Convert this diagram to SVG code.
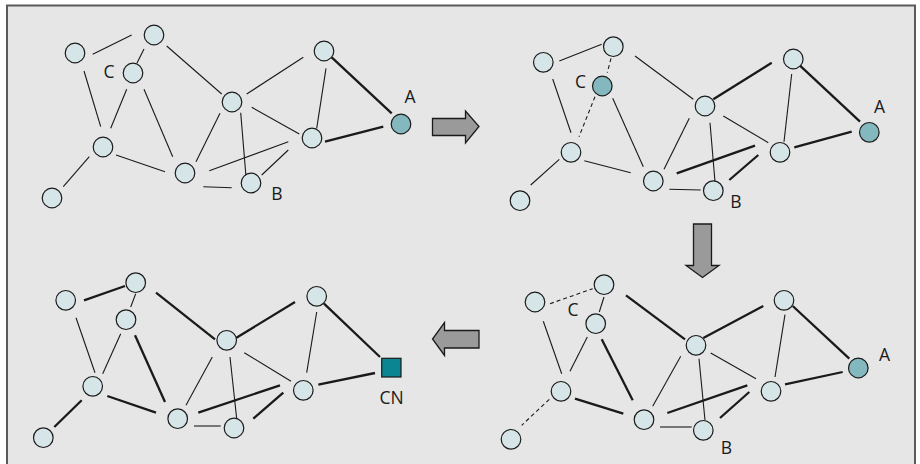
<svg xmlns="http://www.w3.org/2000/svg" width="920" height="464" viewBox="0 0 920 464">
<style>
.frame{fill:#e6e6e6;stroke:#5a5a5a;stroke-width:2}
.n{fill:#d6e5e8;stroke:#1a1a1a;stroke-width:1.2}
.d{fill:#84b8bf;stroke:#1a1a1a;stroke-width:1.2}
.sq{fill:#0b8591;stroke:#1a1a1a;stroke-width:1.2}
.t{stroke:#1a1a1a;stroke-width:1.1;fill:none}
.k{stroke:#1a1a1a;stroke-width:2.3;fill:none}
.ds{stroke:#1a1a1a;stroke-width:1.1;fill:none;stroke-dasharray:4 3}
.arr{fill:#9a9a9a;stroke:#1a1a1a;stroke-width:1.3;stroke-linejoin:miter}
.lb{font-family:"Open Sans","Liberation Sans",Arial,sans-serif;font-size:17.5px;fill:#1a1a1a;text-anchor:middle}
</style>
<rect class="frame" x="7" y="5.5" width="908" height="470"/>
<g id="connectors">
<!-- panel 1 -->
<line class="t" x1="92.7" y1="54.3" x2="131.7" y2="35"/>
<line class="t" x1="144" y1="49" x2="137" y2="63"/>
<line class="t" x1="166.7" y1="46" x2="221.7" y2="94"/>
<line class="t" x1="84" y1="71" x2="100.7" y2="126.7"/>
<line class="t" x1="126.7" y1="89.3" x2="110.7" y2="128.3"/>
<line class="t" x1="144" y1="89.3" x2="172.7" y2="156.7"/>
<line class="t" x1="89.3" y1="156.7" x2="63.3" y2="186.7"/>
<line class="t" x1="116" y1="155" x2="165" y2="171.7"/>
<line class="t" x1="196" y1="161.7" x2="220" y2="113.3"/>
<line class="t" x1="203.3" y1="186.7" x2="231.7" y2="187.7"/>
<line class="t" x1="209.3" y1="170.7" x2="288.3" y2="141.7"/>
<line class="t" x1="240.7" y1="112.7" x2="246" y2="176.7"/>
<line class="t" x1="251.7" y1="107.3" x2="299.3" y2="134"/>
<line class="t" x1="246.7" y1="94" x2="303.3" y2="57.3"/>
<line class="t" x1="261.7" y1="175" x2="288.3" y2="150"/>
<line class="t" x1="326" y1="68.3" x2="316.7" y2="128.3"/>
<line class="k" x1="331.7" y1="57.3" x2="391.7" y2="113.3"/>
<line class="k" x1="325" y1="141.7" x2="383.3" y2="126.7"/>
<!-- panel 2 -->
<line class="t" x1="559.3" y1="61" x2="601.7" y2="44.3"/>
<line class="ds" x1="611" y1="58.3" x2="607.3" y2="72.7"/>
<line class="t" x1="635" y1="56" x2="693.3" y2="99.3"/>
<line class="t" x1="552.7" y1="79" x2="571" y2="132.7"/>
<line class="ds" x1="595" y1="96.7" x2="579" y2="136.7"/>
<line class="t" x1="612.7" y1="98.3" x2="643.3" y2="166.7"/>
<line class="t" x1="559.3" y1="159.3" x2="530.7" y2="185"/>
<line class="t" x1="584.3" y1="160.7" x2="630.7" y2="172.7"/>
<line class="t" x1="664" y1="169.3" x2="689.3" y2="118.3"/>
<line class="t" x1="669.3" y1="189.3" x2="700.7" y2="190"/>
<line class="k" x1="676.7" y1="173.3" x2="755" y2="145.7"/>
<line class="t" x1="710" y1="122.7" x2="715" y2="181.7"/>
<line class="t" x1="723.3" y1="116" x2="768.3" y2="142.7"/>
<line class="k" x1="713.3" y1="99.3" x2="771.7" y2="62.7"/>
<line class="k" x1="729.3" y1="180" x2="758.3" y2="155"/>
<line class="t" x1="791.7" y1="74" x2="784" y2="141.7"/>
<line class="k" x1="800" y1="65.7" x2="860" y2="121.7"/>
<line class="k" x1="794.3" y1="147.3" x2="851.7" y2="131.7"/>
<!-- panel 3 -->
<line class="ds" x1="550" y1="303.7" x2="592.7" y2="288.7"/>
<line class="t" x1="604" y1="297" x2="599.3" y2="312"/>
<line class="k" x1="626" y1="295.3" x2="685" y2="339.3"/>
<line class="t" x1="543.3" y1="321.3" x2="561.7" y2="373.7"/>
<line class="t" x1="587.3" y1="337" x2="570" y2="371.3"/>
<line class="k" x1="601.7" y1="339.3" x2="632.7" y2="400.3"/>
<line class="ds" x1="549.3" y1="399.3" x2="521.7" y2="425.3"/>
<line class="k" x1="575" y1="398.7" x2="623.3" y2="413.7"/>
<line class="t" x1="652.7" y1="406.3" x2="680.7" y2="356.3"/>
<line class="t" x1="660" y1="427" x2="691.7" y2="427"/>
<line class="k" x1="667.3" y1="413" x2="747.3" y2="385.3"/>
<line class="t" x1="699" y1="358.7" x2="705" y2="420.3"/>
<line class="t" x1="710.7" y1="353" x2="756" y2="378.7"/>
<line class="k" x1="703.3" y1="338" x2="763.3" y2="306"/>
<line class="k" x1="720" y1="418" x2="749.3" y2="392"/>
<line class="t" x1="785" y1="314.7" x2="775" y2="377"/>
<line class="k" x1="792.7" y1="306" x2="849.3" y2="358.7"/>
<line class="k" x1="785" y1="384.3" x2="842.7" y2="372"/>
<!-- panel 4 -->
<line class="k" x1="84" y1="300.3" x2="125" y2="286"/>
<line class="t" x1="135.7" y1="293.7" x2="130.7" y2="307"/>
<line class="k" x1="156" y1="292.7" x2="215" y2="339.3"/>
<line class="t" x1="76" y1="317.7" x2="95" y2="372.7"/>
<line class="t" x1="120.7" y1="333.7" x2="102.7" y2="373.7"/>
<line class="k" x1="135" y1="335.3" x2="165" y2="402"/>
<line class="k" x1="81.7" y1="400.3" x2="54.3" y2="427"/>
<line class="k" x1="107.3" y1="396" x2="156" y2="412.7"/>
<line class="t" x1="186" y1="405.3" x2="212.3" y2="357"/>
<line class="t" x1="194" y1="426" x2="220.7" y2="426"/>
<line class="k" x1="198.3" y1="412.7" x2="280" y2="385.3"/>
<line class="t" x1="230" y1="357" x2="236.7" y2="418.7"/>
<line class="t" x1="244.3" y1="352.7" x2="291" y2="381.3"/>
<line class="k" x1="236" y1="338" x2="295" y2="302"/>
<line class="k" x1="253.3" y1="418.7" x2="283.3" y2="392.7"/>
<line class="t" x1="316.7" y1="312" x2="306.7" y2="372.7"/>
<line class="k" x1="324" y1="303.7" x2="380" y2="357"/>
<line class="k" x1="318.3" y1="384.7" x2="375" y2="373"/>
</g>
<g id="arrows">
<polygon class="arr" points="432.5,118.5 465.5,118.5 465.5,111 479,126.5 465.5,143 465.5,135.5 432.5,135.5"/>
<polygon class="arr" points="693.5,224 711.5,224 711.5,265.5 719,265.5 702.5,277.5 686,265.5 693.5,265.5"/>
<polygon class="arr" points="479,330.5 444.5,330.5 444.5,322.5 432.5,339 444.5,355.5 444.5,348 479,348"/>
</g>
<g id="panel1">
<g id="p1n1"><circle class="n" cx="75" cy="53" r="9.8"/></g>
<g id="p1n2"><circle class="n" cx="154" cy="35" r="9.8"/></g>
<g id="p1C"><circle class="n" cx="133" cy="73" r="9.8"/><text class="lb" x="109" y="78">C</text></g>
<g id="p1n4"><circle class="n" cx="324" cy="51" r="9.8"/></g>
<g id="p1n5"><circle class="n" cx="232" cy="102" r="9.8"/></g>
<g id="p1A"><circle class="d" cx="401" cy="124" r="9.8"/><text class="lb" x="410" y="103">A</text></g>
<g id="p1n7"><circle class="n" cx="312" cy="138" r="9.8"/></g>
<g id="p1n8"><circle class="n" cx="103" cy="147" r="9.8"/></g>
<g id="p1n9"><circle class="n" cx="185" cy="173" r="9.8"/></g>
<g id="p1B"><circle class="n" cx="251" cy="183" r="9.8"/><text class="lb" x="277" y="200">B</text></g>
<g id="p1n11"><circle class="n" cx="52" cy="198" r="9.8"/></g>
</g>
<g id="panel2">
<g id="p2n1"><circle class="n" cx="543.3" cy="62.3" r="9.8"/></g>
<g id="p2n2"><circle class="n" cx="613.3" cy="46.7" r="9.8"/></g>
<g id="p2C"><circle class="d" cx="602.3" cy="86" r="9.8"/><text class="lb" x="580.5" y="88">C</text></g>
<g id="p2n4"><circle class="n" cx="793.3" cy="59" r="9.8"/></g>
<g id="p2n5"><circle class="n" cx="705" cy="106" r="9.8"/></g>
<g id="p2A"><circle class="d" cx="869.3" cy="132.3" r="9.8"/><text class="lb" x="879.5" y="113">A</text></g>
<g id="p2n7"><circle class="n" cx="780" cy="152.3" r="9.8"/></g>
<g id="p2n8"><circle class="n" cx="571" cy="152.3" r="9.8"/></g>
<g id="p2n9"><circle class="n" cx="653.3" cy="181" r="9.8"/></g>
<g id="p2B"><circle class="n" cx="713.3" cy="190.7" r="9.8"/><text class="lb" x="736" y="208">B</text></g>
<g id="p2n11"><circle class="n" cx="520" cy="200.7" r="9.8"/></g>
</g>
<g id="panel3">
<g id="p3n1"><circle class="n" cx="535" cy="302" r="9.8"/></g>
<g id="p3n2"><circle class="n" cx="604" cy="284.7" r="9.8"/></g>
<g id="p3C"><circle class="n" cx="595.7" cy="323.7" r="9.8"/><text class="lb" x="573" y="316">C</text></g>
<g id="p3n4"><circle class="n" cx="784" cy="300.3" r="9.8"/></g>
<g id="p3n5"><circle class="n" cx="696" cy="345.3" r="9.8"/></g>
<g id="p3A"><circle class="d" cx="858.3" cy="368" r="9.8"/><text class="lb" x="884.5" y="361">A</text></g>
<g id="p3n7"><circle class="n" cx="771" cy="391.3" r="9.8"/></g>
<g id="p3n8"><circle class="n" cx="561" cy="391.3" r="9.8"/></g>
<g id="p3n9"><circle class="n" cx="644" cy="419.7" r="9.8"/></g>
<g id="p3B"><circle class="n" cx="703.3" cy="430.3" r="9.8"/><text class="lb" x="726.5" y="454">B</text></g>
<g id="p3n11"><circle class="n" cx="511" cy="439.3" r="9.8"/></g>
</g>
<g id="panel4">
<g id="p4n1"><circle class="n" cx="65.7" cy="300.3" r="9.8"/></g>
<g id="p4n2"><circle class="n" cx="135.7" cy="282.7" r="9.8"/></g>
<g id="p4n3"><circle class="n" cx="126" cy="319.7" r="9.8"/></g>
<g id="p4n4"><circle class="n" cx="316.7" cy="296.3" r="9.8"/></g>
<g id="p4n5"><circle class="n" cx="226.7" cy="340.3" r="9.8"/></g>
<g id="p4CN"><rect class="sq" x="381.7" y="358.3" width="19.3" height="18.7"/><text class="lb" x="391.7" y="404">CN</text></g>
<g id="p4n7"><circle class="n" cx="303.3" cy="390.3" r="9.8"/></g>
<g id="p4n8"><circle class="n" cx="92.7" cy="386.3" r="9.8"/></g>
<g id="p4n9"><circle class="n" cx="177.7" cy="418.7" r="9.8"/></g>
<g id="p4n10"><circle class="n" cx="234" cy="428" r="9.8"/></g>
<g id="p4n11"><circle class="n" cx="43.3" cy="437.7" r="9.8"/></g>
</g>
</svg>
